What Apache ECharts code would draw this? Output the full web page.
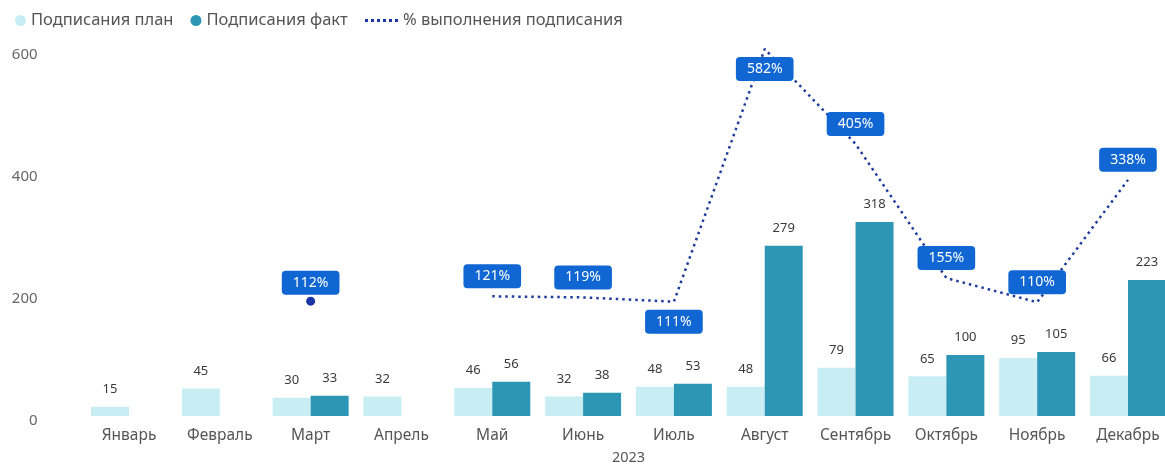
<!DOCTYPE html>
<html>
<head>
<meta charset="utf-8">
<script src="https://cdn.jsdelivr.net/npm/echarts@6/dist/echarts.min.js"></script>
<style>
  html, body { margin: 0; padding: 0; background: #fff; }
  #chart { width: 1165px; height: 466px; }
</style>
</head>
<body>
<div id="chart"></div>
<script>
// data
var months = ['Январь', 'Февраль', 'Март', 'Апрель', 'Май', 'Июнь', 'Июль', 'Август', 'Сентябрь', 'Октябрь', 'Ноябрь', 'Декабрь'];
var planValues = [15, 45, 30, 32, 46, 32, 48, 48, 79, 65, 95, 66];
var factValues = [null, null, 33, null, 56, 38, 53, 279, 318, 100, 105, 223];
var percentValues = [null, null, 112, null, 121, 119, 111, 582, 405, 155, 110, 338];
var yearName = '2023';

// months where the % label sits under the point
var labelBelow = ['Июль', 'Август'];

var font = 'Noto Sans';

var percentData = percentValues.map(function (v, i) {
  var item = { value: v };
  // isolated point (no neighbours) is drawn as a dot
  var prev = i > 0 ? percentValues[i - 1] : null;
  var next = i < percentValues.length - 1 ? percentValues[i + 1] : null;
  if (v != null && prev == null && next == null) {
    item.symbolSize = 9;
    item.label = { distance: 2 };
  }
  if (labelBelow.indexOf(months[i]) >= 0) {
    item.label = { position: 'bottom', distance: 8 };
  }
  return item;
});

var chart = echarts.init(document.getElementById('chart'));

var barLabel = {
  show: true,
  position: 'top',
  distance: 11,
  color: '#3a3a3a',
  fontSize: 13,
  fontFamily: font
};

var option = {
  animation: false,
  legend: [{
    data: ['Подписания план', 'Подписания факт'],
    left: 15,
    top: 12,
    padding: 0,
    icon: 'circle',
    itemWidth: 11,
    itemHeight: 11,
    itemGap: 17,
    textStyle: { color: '#555', fontSize: 16.5, fontFamily: font }
  }, {
    data: ['% выполнения подписания'],
    left: 365,
    top: 12,
    padding: 0,
    icon: 'path://M0,0h3v3h-3z M6,0h3v3h-3z M12,0h3v3h-3z M18,0h3v3h-3z M24,0h3v3h-3z M30,0h3v3h-3z',
    itemWidth: 33,
    itemHeight: 11,
    textStyle: { color: '#555', fontSize: 16.5, fontFamily: font }
  }],
  grid: {
    left: 83.6,
    right: -8.4,
    top: 50,
    bottom: 50,
    outerBoundsMode: 'none'
  },
  xAxis: {
    type: 'category',
    data: months,
    axisLine: { show: false },
    axisTick: { show: false },
    axisLabel: { color: '#555', fontSize: 15.5, fontFamily: font, margin: 12, interval: 0 },
    name: yearName,
    nameLocation: 'middle',
    nameGap: 34,
    nameTextStyle: { color: '#555', fontSize: 14.5, fontFamily: font }
  },
  yAxis: [{
    type: 'value',
    min: 0,
    max: 600,
    interval: 200,
    splitLine: { show: false },
    axisLine: { show: false },
    axisTick: { show: false },
    axisLabel: {
      color: '#666', fontSize: 15, fontFamily: font, margin: 46,
      align: 'right', verticalAlign: 'top', lineHeight: 10
    }
  }, {
    type: 'value',
    min: -102,
    max: 580,
    show: false,
    splitLine: { show: false }
  }],
  series: [{
    name: 'Подписания план',
    type: 'bar',
    data: planValues,
    barGap: '0%',
    barCategoryGap: '16.3%',
    itemStyle: { color: '#c8eef4' },
    label: barLabel
  }, {
    name: 'Подписания факт',
    type: 'bar',
    data: factValues,
    itemStyle: { color: '#2e96b5' },
    label: barLabel
  }, {
    name: '% выполнения подписания',
    type: 'line',
    yAxisIndex: 1,
    data: percentData,
    connectNulls: false,
    clip: false,
    z: 5,
    symbol: 'circle',
    symbolSize: 0,
    showSymbol: true,
    itemStyle: { color: '#1a35a6' },
    lineStyle: { color: '#1f3d9c', width: 2.5, type: [2.5, 4] },
    label: {
      show: true,
      position: 'top',
      distance: 8,
      formatter: '{c}%',
      color: '#fff',
      fontSize: 14,
      fontFamily: font,
      backgroundColor: '#1066d2',
      borderRadius: 4,
      padding: [5, 11]
    }
  }]
};

chart.setOption(option);
</script>
</body>
</html>
